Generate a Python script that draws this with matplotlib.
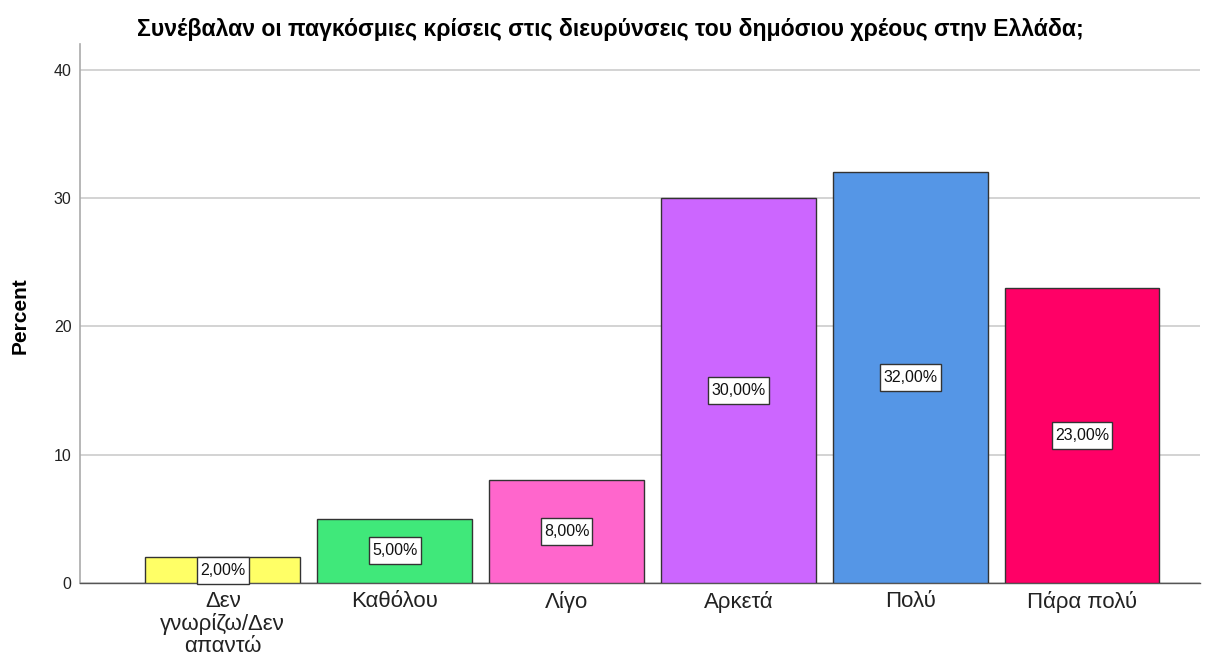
import matplotlib
matplotlib.use("Agg")
import matplotlib.pyplot as plt
from matplotlib.path import Path

categories = ["Δεν\nγνωρίζω/Δεν\nαπαντώ", "Καθόλου", "Λίγο", "Αρκετά", "Πολύ", "Πάρα πολύ"]
values = [2.0, 5.0, 8.0, 30.0, 32.0, 23.0]
colors = ["#FFFF66", "#40E87A", "#FF66CC", "#CC66FF", "#5596E6", "#FF0066"]
yticks = [0, 10, 20, 30, 40]
title = "Συνέβαλαν οι παγκόσμιες κρίσεις στις διευρύνσεις του δημόσιου χρέους στην Ελλάδα;"

plt.rcParams['font.family'] = ['Liberation Sans', 'DejaVu Sans']


def label_box(x0, y0, width, height, mutation_size):
    px = 0.2 * mutation_size
    py = 0.38 * mutation_size
    x0, y0 = x0 - px, y0 - py
    x1, y1 = x0 + width + 2 * px, y0 + height + 2 * py
    return Path([(x0, y0), (x1, y0), (x1, y1), (x0, y1), (x0, y0)], closed=True)


W, H = 1217, 664
fig = plt.figure(figsize=(W / 100, H / 100), dpi=100)
ax = fig.add_axes([80 / W, 1 - 583 / H, 1120 / W, (583 - 44) / H])

x = list(range(len(categories)))
ax.bar(x, values, width=0.9, color=colors, edgecolor="#333333", linewidth=1.0, zorder=3)

for xi, v in zip(x, values):
    ax.text(xi, v / 2, f"{v:.2f}".replace(".", ",") + "%", ha="center", va="center",
            fontsize=11.5, color="#111111", zorder=4,
            bbox=dict(boxstyle=label_box, facecolor="white", edgecolor="#333333", linewidth=1.0))

ax.set_xlim(-0.831, 5.686)
ax.set_ylim(0, 42.0)
ax.set_yticks(yticks)
ax.set_xticks(x)
ax.set_xticklabels(categories, fontsize=16, color="#222222", linespacing=1.05)
ax.tick_params(axis="x", length=0, pad=6)
ax.tick_params(axis="y", length=0, labelsize=11.5, pad=6, labelcolor="#222222")
ax.grid(axis="y", color="#cccccc", linewidth=1.2, zorder=0)
for s in ["top", "right"]:
    ax.spines[s].set_visible(False)
ax.spines["left"].set_color("#aaaaaa")
ax.spines["left"].set_linewidth(1.2)
ax.spines["bottom"].set_color("#555555")
ax.spines["bottom"].set_linewidth(1.0)

fig.text(20 / W, 1 - 316 / H, "Percent", rotation=90, ha="center", va="center",
         fontsize=15, fontweight="bold")
fig.text(610 / W, 1 - 36 / H, title, ha="center", va="baseline",
         fontsize=16.6, fontweight="bold")

fig.savefig("out.png", dpi=100)
